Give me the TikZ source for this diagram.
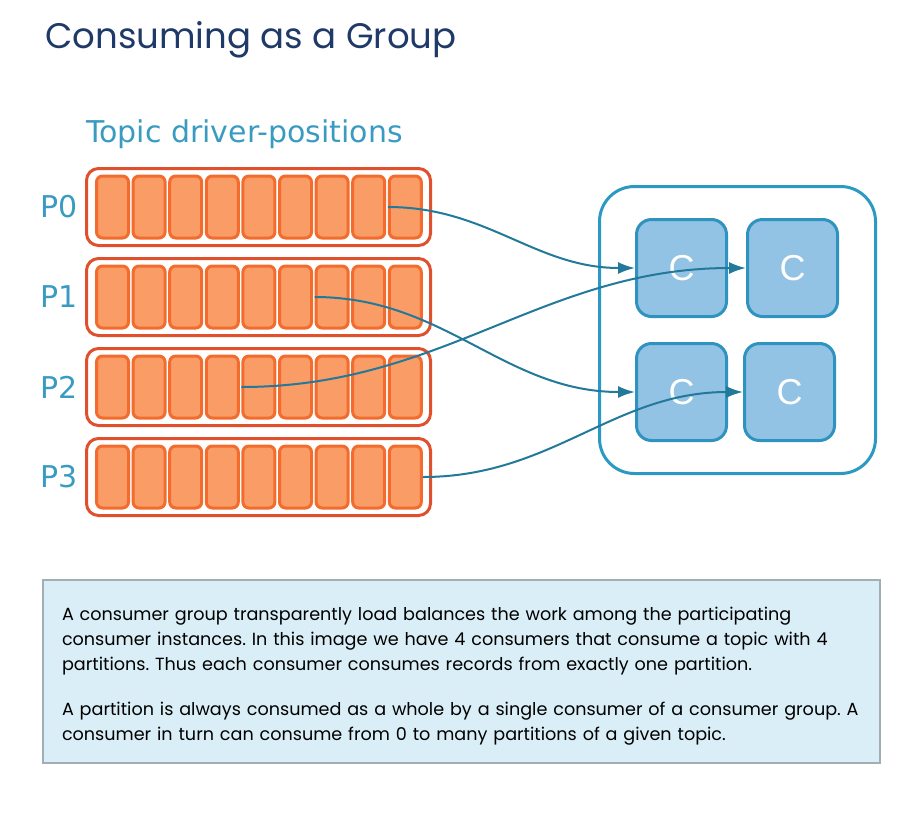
\documentclass[tikz,border=0pt]{standalone}
\usepackage{fontspec}
\setmainfont{Poppins}
\newfontfamily\verdanafont{DejaVu Sans}
\newfontfamily\arialfont{Liberation Sans}
\usetikzlibrary{arrows.meta, positioning}

\definecolor{titleblue}{HTML}{1F3A68}
\definecolor{topicblue}{HTML}{3A9BC1}
\definecolor{partred}{HTML}{E1502C}
\definecolor{cellfill}{HTML}{F99C66}
\definecolor{celledge}{HTML}{F36C2E}
\definecolor{groupblue}{HTML}{2B9AC3}
\definecolor{consfill}{HTML}{93C3E4}
\definecolor{consedge}{HTML}{2E93BF}
\definecolor{flowcol}{HTML}{22799A}
\definecolor{infofill}{HTML}{D9EEF6}
\definecolor{infoedge}{HTML}{A3ADB4}

\frenchspacing
\begin{document}
\begin{tikzpicture}[x=1pt, y=-1pt, partbox/.style={draw=partred, line width=3pt, fill=white, rounded corners=12pt, minimum width=344pt, minimum height=77pt}, cellbox/.style={draw=celledge, line width=3pt, fill=cellfill, rounded corners=6pt, minimum width=32pt, minimum height=62pt}, plabel/.style={text=topicblue, inner sep=0pt, font=\verdanafont\fontsize{30}{34}\selectfont}, consumer/.style={draw=consedge, line width=3pt, fill=consfill, rounded corners=15pt, minimum width=90pt, minimum height=97pt, text=white, font=\arialfont\fontsize{36}{40}\selectfont}, flow/.style={-{Latex[length=17pt, width=12pt]}, line width=2pt, draw=flowcol, out=0, in=180}]

\useasboundingbox (0,0) rectangle (917,814);

\node[anchor=base west, inner sep=0pt, text=titleblue, font=\fontsize{35.5}{40}\selectfont] (title) at (45,48) {Consuming as a Group};
\node[anchor=base west, inner sep=0pt, text=topicblue, font=\verdanafont\fontsize{30}{34}\selectfont] (topic) at (86,142) {Topic driver-positions};

% partitions of the topic
\foreach \p in {0,...,3}{
  \node[partbox] (part\p) at (258.5,207+90*\p) {};
  \node[plabel, left=7pt of part\p] (plab\p) {P\p};
  \foreach \k in {0,...,8}
    \node[cellbox] (cell\p-\k) at (112.5+36.6*\k,207+90*\p) {};
}

% consumer group
\node[draw=groupblue, line width=3pt, fill=white, rounded corners=35pt, minimum width=276pt, minimum height=287pt] (group) at (737.5,330) {};
\node[consumer] (c1) at (681.5,268) {C};
\node[consumer, right=18pt of c1] (c2) {C};
\node[consumer, below=24pt of c1] (c3) {C};
\node[consumer, right=15pt of c3] (c4) {C};

\draw[flow] (cell0-8.west) to (c1.west);
\draw[flow] (cell1-6.west) to (c3.west);
\draw[flow] (cell2-4.west) to (c2.west);
\draw[flow] (cell3-8.east) to (c4.west);

\node[draw=infoedge, line width=1.5pt, fill=infofill, minimum width=837pt, minimum height=183pt] (info) at (461.5,671.5) {};
\node[text width=799pt, inner sep=0pt, align=left, font=\fontsize{17.6}{25}\selectfont] (infotext) at ([yshift=-5pt]info.center) {A consumer group transparently load balances the work among the participating\\ consumer instances. In this image we have 4 consumers that consume a topic with 4\\ partitions. Thus each consumer consumes records from exactly one partition.\\[20pt] A partition is always consumed as a whole by a single consumer of a consumer group. A\\ consumer in turn can consume from 0 to many partitions of a given topic.};

\end{tikzpicture}
\end{document}
